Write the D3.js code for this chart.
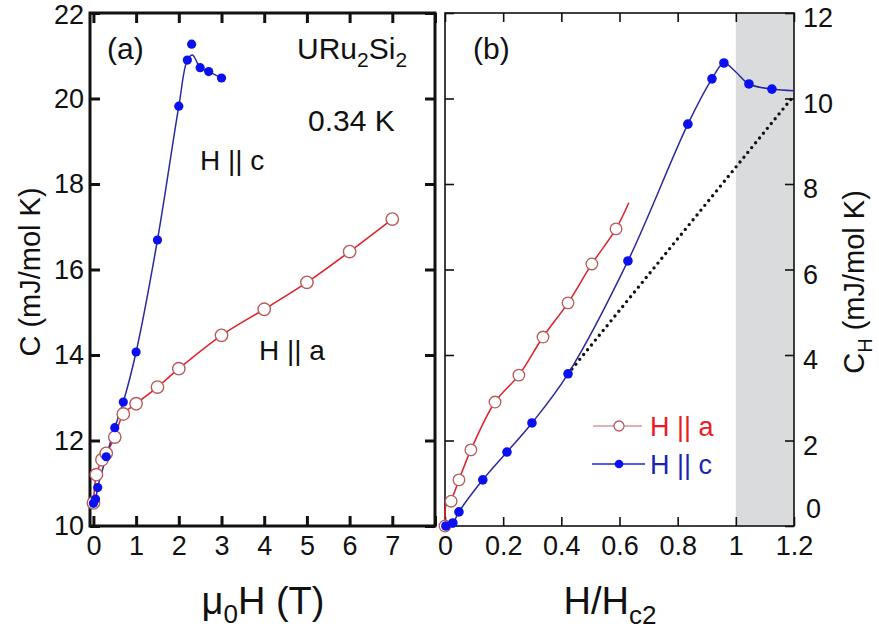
<!DOCTYPE html>
<html>
<head>
<meta charset="utf-8">
<script src="https://cdn.jsdelivr.net/npm/d3@7"></script>
<style>
  html, body { margin: 0; padding: 0; background: #fff; }
  svg { display: block; }
  text { font-family: "Liberation Sans", Arial, Helvetica, sans-serif; fill: #111; }
  .narrow { font-family: "Liberation Sans Narrow", "Liberation Sans", Arial, sans-serif; }
</style>
</head>
<body>
<svg id="chart" width="879" height="630"></svg>
<script>
// ---- Panel (a): specific heat C vs applied field μ0H, URu2Si2 at 0.34 K ----
const aFieldC = [0, 0.05, 0.1, 0.3, 0.5, 0.7, 1.0, 1.5, 2.0, 2.2, 2.3, 2.5, 2.7, 3.0];
const aHeatC  = [10.53, 10.63, 10.9, 11.62, 12.3, 12.9, 14.07, 16.69, 19.82, 20.9, 21.27, 20.72, 20.63, 20.48];
// smooth guide line for H || c (passes under the 2.3 T point)
const aFitFieldC = [0, 0.05, 0.1, 0.3, 0.5, 0.7, 1.0, 1.5, 2.0, 2.2, 2.32, 2.5, 2.7, 3.0];
const aFitHeatC  = [10.53, 10.63, 10.9, 11.62, 12.3, 12.9, 14.07, 16.69, 19.82, 20.9, 21.02, 20.72, 20.63, 20.48];

const aFieldA = [0, 0.07, 0.2, 0.3, 0.5, 0.7, 1.0, 1.5, 2.0, 3.0, 4.0, 5.0, 6.0, 7.0];
const aHeatA  = [10.54, 11.2, 11.55, 11.7, 12.08, 12.62, 12.86, 13.25, 13.68, 14.46, 15.07, 15.7, 16.42, 17.18];

// ---- Panel (b): field-induced C_H vs reduced field H/Hc2 ----
const bRedC  = [0.003, 0.027, 0.048, 0.13, 0.213, 0.299, 0.423, 0.629, 0.835, 0.918, 0.959, 1.045, 1.124];
const bHeatC = [0, 0.07, 0.33, 1.08, 1.73, 2.41, 3.56, 6.2, 9.4, 10.46, 10.83, 10.34, 10.22];
const bFitRedC  = [0.003, 0.027, 0.048, 0.13, 0.213, 0.299, 0.423, 0.629, 0.835, 0.918, 0.959, 1.0, 1.045, 1.124, 1.2];
const bFitHeatC = [0, 0.07, 0.33, 1.08, 1.73, 2.41, 3.56, 6.2, 9.4, 10.46, 10.83, 10.62, 10.34, 10.22, 10.18];

const bRedA  = [0.0, 0.021, 0.048, 0.089, 0.172, 0.254, 0.337, 0.423, 0.505, 0.588];
const bHeatA = [0, 0.58, 1.08, 1.78, 2.9, 3.53, 4.42, 5.22, 6.13, 6.95];
const bFitRedA  = [0.0, 0.004, 0.021, 0.048, 0.089, 0.172, 0.254, 0.337, 0.423, 0.505, 0.588, 0.632];
const bFitHeatA = [0, 0.5, 0.62, 1.08, 1.78, 2.9, 3.53, 4.42, 5.22, 6.13, 6.95, 7.56];

// linear extrapolation from the H || c curve up to the normal state
const bDotRed  = [0.423, 1.2];
const bDotHeat = [3.56, 10.07];

// normal-state (H > Hc2) shaded band
const normalBand = [1.0, 1.2];

// tick labels
const aXTicks = [0, 1, 2, 3, 4, 5, 6, 7];
const aXMinor = [0, 1, 2, 3, 4, 5, 6, 7, 8];
const aYTicks = [10, 12, 14, 16, 18, 20, 22];
const bXTicks = [0, 0.2, 0.4, 0.6, 0.8, 1, 1.2];
const bYTicks = [0, 2, 4, 6, 8, 10, 12];

const zip = (xs, ys) => xs.map((x, i) => [x, ys[i]]);

const svg = d3.select("#chart");

// panel frames
const A = { l: 90, r: 435, t: 13, b: 526 };
const B = { l: 445, r: 794, t: 13, b: 526 };

const xa = d3.scaleLinear().domain([-0.08, 8.0]).range([A.l, A.r]);
const ya = d3.scaleLinear().domain([10, 22]).range([A.b, A.t]);
const xb = d3.scaleLinear().domain([0, 1.2]).range([B.l, B.r]);
const yb = d3.scaleLinear().domain([0, 12]).range([B.b, B.t]);

const blueLine = "#2a2a9c", blueDot = "#0a10ee";
const redLine = "#e02028", redCircle = "#b85a5a";

// ---------- panel (b) background band ----------
svg.append("rect")
  .attr("x", xb(normalBand[0])).attr("y", B.t)
  .attr("width", xb(normalBand[1]) - xb(normalBand[0]))
  .attr("height", B.b - B.t)
  .attr("fill", "#d9dbdc");

// ---------- axes with inward ticks ----------
function inwardAxes(g, x, y, box, xVals, xLabels, yVals, tickLen, sw, opts) {
  // bottom
  g.append("g").attr("transform", `translate(0,${box.b})`)
    .call(d3.axisBottom(x).tickValues(xVals).tickSizeInner(-tickLen).tickSizeOuter(0)
      .tickFormat(d => xLabels.includes(d) ? d3.format("~g")(d) : ""))
    .call(s => s.select(".domain").remove())
    .call(s => s.selectAll(".tick line").attr("stroke", "#111").attr("stroke-width", sw))
    .call(s => s.selectAll(".tick text").attr("class", "narrow").attr("font-size", 27)
      .attr("y", 10).attr("dy", "0.71em").attr("fill", "#111"));
  // top
  g.append("g").attr("transform", `translate(0,${box.t})`)
    .call(d3.axisTop(x).tickValues(xVals).tickSizeInner(-tickLen).tickSizeOuter(0).tickFormat(""))
    .call(s => s.select(".domain").remove())
    .call(s => s.selectAll(".tick line").attr("stroke", "#111").attr("stroke-width", sw));
  // left
  g.append("g").attr("class", "yleft").attr("transform", `translate(${box.l},0)`)
    .call(d3.axisLeft(y).tickValues(yVals).tickSizeInner(-tickLen).tickSizeOuter(0)
      .tickFormat(opts.leftLabels ? d3.format("d") : ""))
    .call(s => s.select(".domain").remove())
    .call(s => s.selectAll(".tick line").attr("stroke", "#111").attr("stroke-width", sw))
    .call(s => s.selectAll(".tick text").attr("font-size", 27).attr("x", -6).attr("fill", "#111"));
  // right
  g.append("g").attr("class", "yright").attr("transform", `translate(${box.r},0)`)
    .call(d3.axisRight(y).tickValues(yVals).tickSizeInner(-tickLen).tickSizeOuter(0)
      .tickFormat(opts.rightLabels ? d3.format("d") : ""))
    .call(s => s.select(".domain").remove())
    .call(s => s.selectAll(".tick line").attr("stroke", "#111").attr("stroke-width", sw))
    .call(s => s.selectAll(".tick text").attr("font-size", 27).attr("x", 9).attr("dy", "0.5em").attr("fill", "#111"));
  // frame
  g.append("rect").attr("x", box.l).attr("y", box.t)
    .attr("width", box.r - box.l).attr("height", box.b - box.t)
    .attr("fill", "none").attr("stroke", "#111").attr("stroke-width", sw);
}

const gA = svg.append("g");
inwardAxes(gA, xa, ya, A, aXMinor, aXTicks, aYTicks, 10, 3, { leftLabels: true, rightLabels: false });
const gB = svg.append("g");
inwardAxes(gB, xb, yb, B, bXTicks, bXTicks, bYTicks, 9, 1.6, { leftLabels: false, rightLabels: true });
// the top label on the left axis sits just inside the page edge
gA.selectAll("g.yleft g.tick text").filter(d => d === 22).attr("dy", "0.4em");
// the zero label on the right axis sits up off the corner
gB.selectAll("g.yright g.tick text").filter(d => d === 0).attr("x", 12).attr("dy", "-0.3em");

// ---------- curves and markers ----------
const lineA = d3.line().x(d => xa(d[0])).y(d => ya(d[1])).curve(d3.curveCatmullRom.alpha(0.5));
const lineB = d3.line().x(d => xb(d[0])).y(d => yb(d[1])).curve(d3.curveCatmullRom.alpha(0.5));

// panel (a)
gA.append("path").attr("d", lineA(zip(aFieldA, aHeatA)))
  .attr("fill", "none").attr("stroke", redLine).attr("stroke-width", 1.5);
gA.append("path").attr("d", lineA(zip(aFitFieldC, aFitHeatC)))
  .attr("fill", "none").attr("stroke", blueLine).attr("stroke-width", 1.5);
gA.selectAll("circle.oa").data(zip(aFieldA, aHeatA)).join("circle").attr("class", "oa")
  .attr("cx", d => xa(d[0])).attr("cy", d => ya(d[1])).attr("r", 6.2)
  .attr("fill", "#fff").attr("stroke", redCircle).attr("stroke-width", 1.4);
gA.selectAll("circle.fc").data(zip(aFieldC, aHeatC)).join("circle").attr("class", "fc")
  .attr("cx", d => xa(d[0])).attr("cy", d => ya(d[1])).attr("r", 4.6)
  .attr("fill", blueDot);

// panel (b)
gB.append("path").attr("d", lineB(zip(bDotRed, bDotHeat)))
  .attr("fill", "none").attr("stroke", "#111").attr("stroke-width", 3.4)
  .attr("stroke-linecap", "round").attr("stroke-dasharray", "0,6.2");
gB.append("path").attr("d", lineB(zip(bFitRedA, bFitHeatA)))
  .attr("fill", "none").attr("stroke", redLine).attr("stroke-width", 1.5);
gB.append("path").attr("d", lineB(zip(bFitRedC, bFitHeatC)))
  .attr("fill", "none").attr("stroke", blueLine).attr("stroke-width", 1.5);
gB.selectAll("circle.oa").data(zip(bRedA, bHeatA)).join("circle").attr("class", "oa")
  .attr("cx", d => xb(d[0])).attr("cy", d => yb(d[1])).attr("r", 5.8)
  .attr("fill", "#fff").attr("stroke", redCircle).attr("stroke-width", 1.3);
gB.selectAll("circle.fc").data(zip(bRedC, bHeatC)).join("circle").attr("class", "fc")
  .attr("cx", d => xb(d[0])).attr("cy", d => yb(d[1])).attr("r", 4.8)
  .attr("fill", blueDot);

// ---------- legend ----------
const leg = svg.append("g");
leg.append("line").attr("x1", 593).attr("x2", 642).attr("y1", 426).attr("y2", 426)
  .attr("stroke", "#d49a9a").attr("stroke-width", 1.5);
leg.append("circle").attr("cx", 619).attr("cy", 426).attr("r", 5)
  .attr("fill", "#fff").attr("stroke", redCircle).attr("stroke-width", 1.3);
leg.append("text").attr("x", 650).attr("y", 436).attr("font-size", 27).style("fill", "#ea1c24").text("H || a");
leg.append("line").attr("x1", 592).attr("x2", 645).attr("y1", 464).attr("y2", 464)
  .attr("stroke", "#1c2ad0").attr("stroke-width", 1.6);
leg.append("circle").attr("cx", 619).attr("cy", 464).attr("r", 4.3).attr("fill", blueDot);
leg.append("text").attr("x", 650).attr("y", 474).attr("font-size", 27).style("fill", "#1a24b4").text("H || c");

// ---------- annotations ----------
svg.append("text").attr("x", 107).attr("y", 59).attr("font-size", 30).text("(a)");
svg.append("text").attr("x", 473).attr("y", 59).attr("font-size", 30).text("(b)");
const ur = svg.append("text").attr("x", 297).attr("y", 59).attr("font-size", 30);
ur.append("tspan").text("URu");
ur.append("tspan").attr("font-size", 21).attr("dy", 8).text("2");
ur.append("tspan").attr("dy", -8).text("Si");
ur.append("tspan").attr("font-size", 21).attr("dy", 8).text("2");
svg.append("text").attr("x", 308).attr("y", 131).attr("font-size", 30).text("0.34 K");
svg.append("text").attr("x", 200).attr("y", 170).attr("font-size", 28).text("H || c");
svg.append("text").attr("x", 259).attr("y", 360).attr("font-size", 28).text("H || a");

// ---------- axis titles ----------
svg.append("text").attr("transform", "translate(40,272) rotate(-90)")
  .attr("text-anchor", "middle").attr("font-size", 29).text("C (mJ/mol K)");

const yr = svg.append("text").attr("transform", "translate(864,282) rotate(-90)")
  .attr("text-anchor", "middle").attr("font-size", 29);
yr.append("tspan").text("C");
yr.append("tspan").attr("font-size", 20).attr("dy", 8).text("H");
yr.append("tspan").attr("dy", -8).text(" (mJ/mol K)");

const xt = svg.append("text").attr("class", "narrow").attr("x", 263).attr("y", 614)
  .attr("text-anchor", "middle").attr("font-size", 38);
xt.append("tspan").text("μ");
xt.append("tspan").attr("font-size", 26).attr("dy", 9).text("0");
xt.append("tspan").attr("dy", -9).text("H (T)");

const xt2 = svg.append("text").attr("class", "narrow").attr("x", 610).attr("y", 614)
  .attr("text-anchor", "middle").attr("font-size", 38);
xt2.append("tspan").text("H/H");
xt2.append("tspan").attr("font-size", 26).attr("dy", 10).text("c2");
</script>
</body>
</html>
